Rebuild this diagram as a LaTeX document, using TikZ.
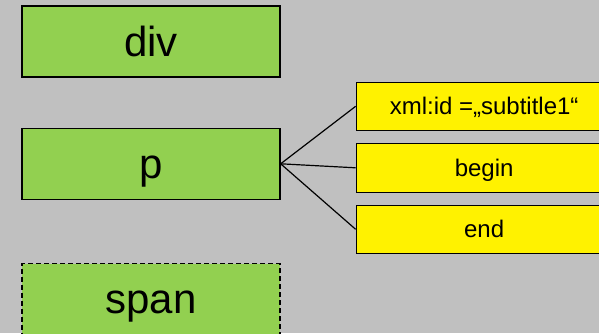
\documentclass[tikz,border=0pt]{standalone}
\usepackage{fontspec}
\setmainfont{Liberation Sans}
\usetikzlibrary{positioning}
\definecolor{elgreen}{RGB}{146,208,80}
\definecolor{bggrey}{RGB}{192,192,192}

\begin{document}
\begin{tikzpicture}[x=1pt,y=1pt,
    box/.style={draw,line width=1.3pt,fill=elgreen,minimum width=258pt,minimum height=71pt,inner sep=0pt,text height=38pt,text depth=9pt,font=\fontsize{42}{42}\selectfont},
    attr/.style={draw,line width=1pt,fill=yellow,minimum width=256pt,minimum height=48.5pt,inner sep=0pt,text height=21.7pt,text depth=5.1pt,font=\fontsize{24}{24}\selectfont}]
    \useasboundingbox (0,0) rectangle (599,-333);
    \fill[bggrey] (0,0) rectangle (599,-333);
    \clip (0,0) rectangle (599,-333);
    \node[box] (div) at (151,-41.5) {div};
    \node[box] (p) [below=50pt of div] {p};
    \node[box,dash pattern=on 5pt off 3pt] (span) [below=63pt of p] {span};
    \node[attr] (begin) [right=75pt of p,yshift=-4pt] {begin};
    \node[attr] (id) [above=12pt of begin] {xml:id =„subtitle1“};
    \node[attr] (end) [below=12pt of begin] {end};
    \draw[line width=1.2pt] (p.east) -- (id.west);
    \draw[line width=1.2pt] (p.east) -- (begin.west);
    \draw[line width=1.2pt] (p.east) -- (end.west);
\end{tikzpicture}
\end{document}
